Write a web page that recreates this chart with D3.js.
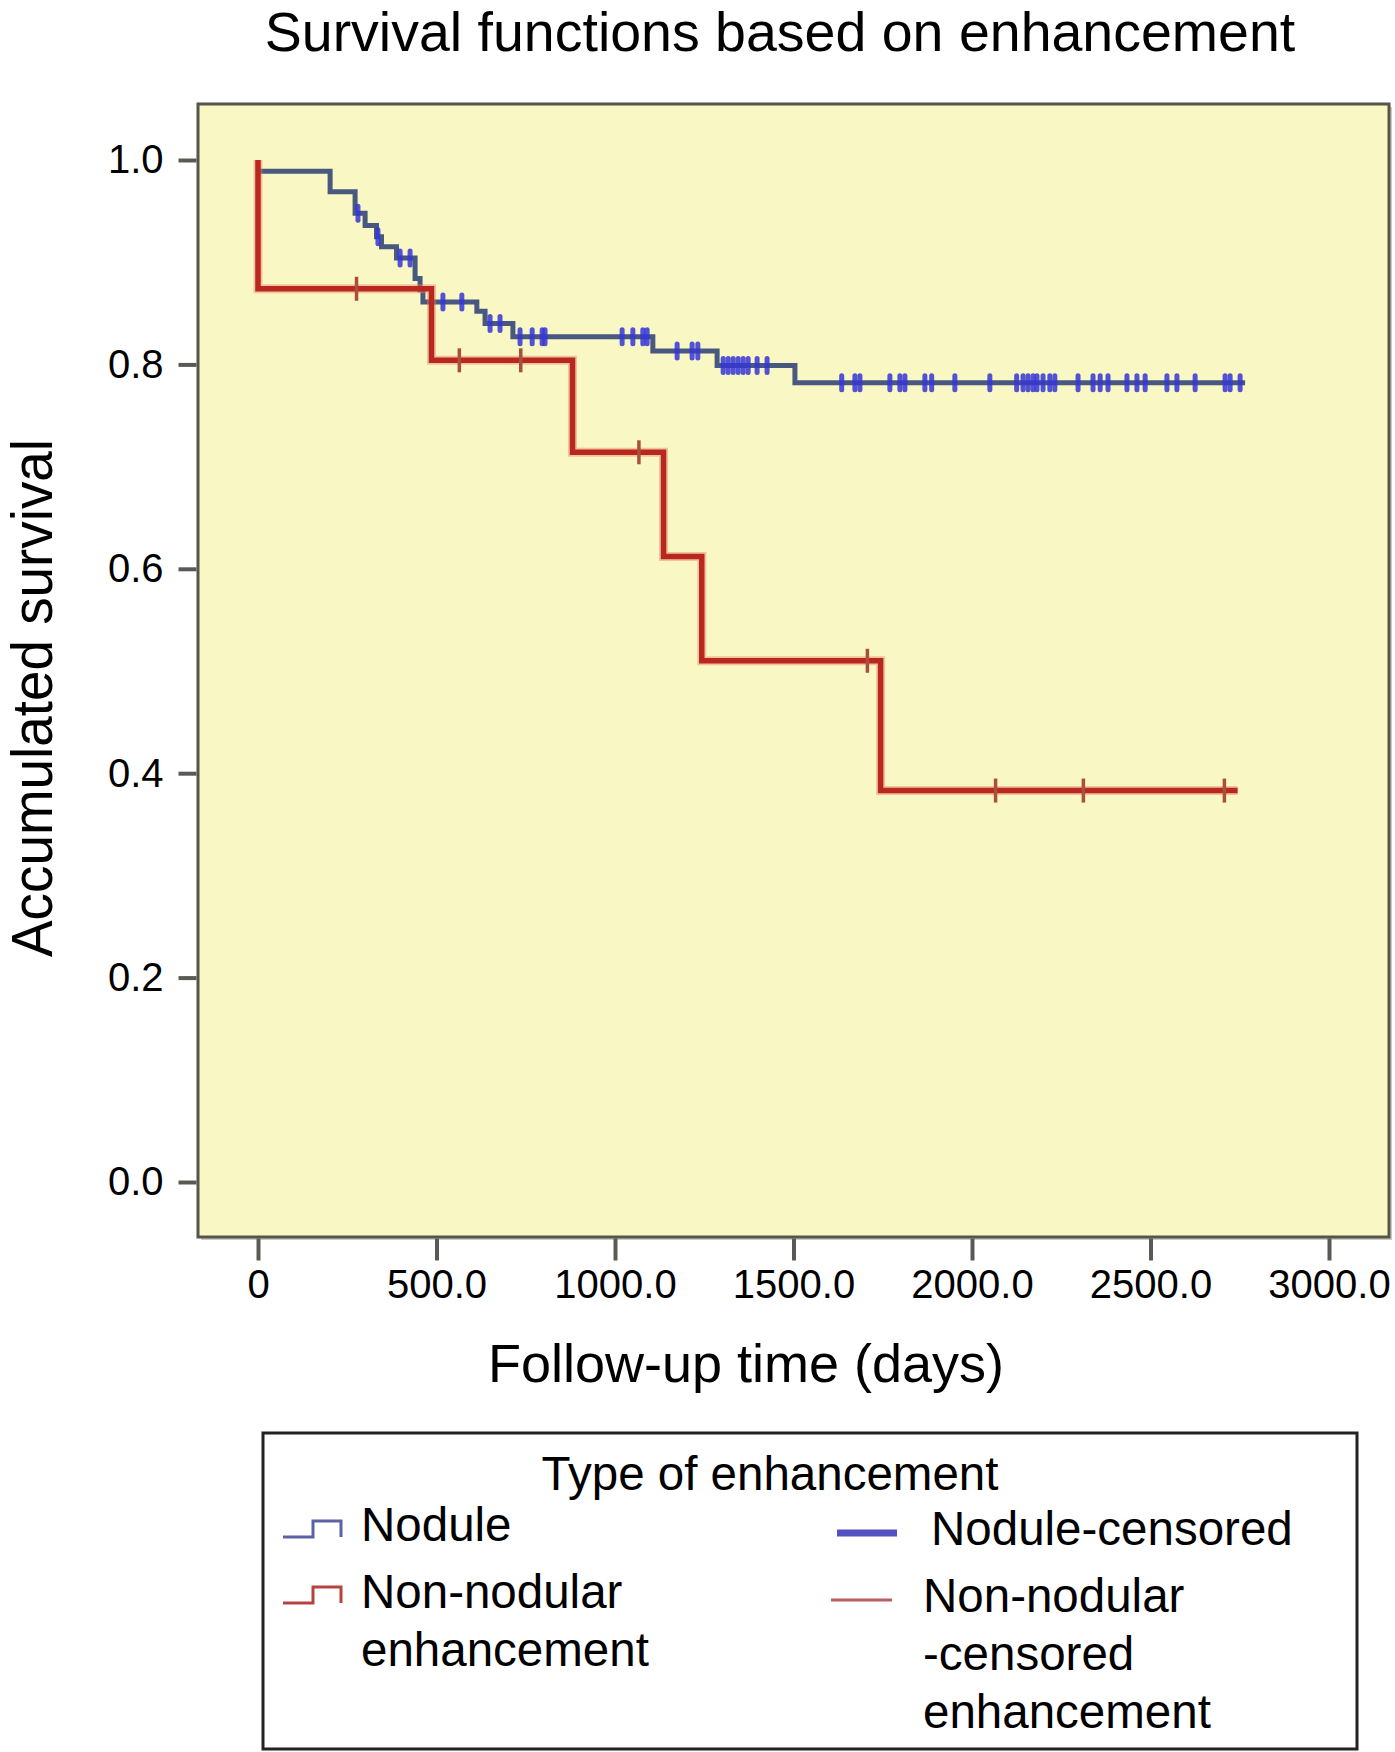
<!DOCTYPE html>
<html>
<head>
<meta charset="utf-8">
<script src="https://cdn.jsdelivr.net/npm/d3@7"></script>
<style>
  body { margin: 0; background: #fff; }
  svg text { font-family: "Liberation Sans", Arial, sans-serif; fill: #000; }
</style>
</head>
<body>
<div id="chart"></div>
<script>
// Kaplan-Meier steps (days, survival)
const noduleTimes = [0, 202, 272, 300, 332, 346, 388, 440, 454, 462, 613, 636, 714, 1106, 1286, 1504];
const noduleSurv  = [0.989, 0.969, 0.948, 0.936, 0.925, 0.915, 0.904, 0.884, 0.873, 0.861, 0.852, 0.840, 0.827, 0.813, 0.799, 0.782];
const noduleEnd = 2765;
const noduleCensored = [280, 336, 398, 426, 518, 571, 650, 678, 734, 768, 796, 804, 1020, 1050, 1078, 1090,
    1174, 1216, 1232, 1303, 1317, 1331, 1345, 1359, 1373, 1398, 1426,
    1635, 1672, 1686, 1770, 1798, 1812, 1868, 1887, 1952, 2050, 2125, 2143, 2157, 2171, 2182, 2199, 2218, 2232,
    2297, 2339, 2359, 2381, 2434, 2462, 2485, 2546, 2574, 2625, 2709, 2723, 2751];

const nonNodTimes = [0, 0, 486, 881, 1136, 1243, 1744];
const nonNodSurv  = [1, 0.874, 0.804, 0.714, 0.612, 0.510, 0.383];
const nonNodEnd = 2744;
const nonNodCensored = [276, 564, 736, 1067, 1707, 2066, 2312, 2707];

const xTicks = [0, 500, 1000, 1500, 2000, 2500, 3000];
const yTicks = [0, 0.2, 0.4, 0.6, 0.8, 1.0];

const W = 1395, H = 1752;
const frame = {left: 198, top: 104, right: 1389, bottom: 1237};

const svg = d3.select("#chart").append("svg")
    .attr("width", W)
    .attr("height", H);

const x = d3.scaleLinear().domain([0, 3000]).range([258, 1329]);
const y = d3.scaleLinear().domain([0, 1]).range([1182, 160]);

// title
svg.append("text")
    .attr("x", 780)
    .attr("y", 51)
    .attr("text-anchor", "middle")
    .style("font-size", "55.5px")
    .text("Survival functions based on enhancement");

// plot background
svg.append("rect")
    .attr("x", frame.left + 3)
    .attr("y", frame.top + 3)
    .attr("width", frame.right - frame.left)
    .attr("height", frame.bottom - frame.top)
    .attr("fill", "#9a9a8a")
    .attr("opacity", 0.5);
svg.append("rect")
    .attr("x", frame.left)
    .attr("y", frame.top)
    .attr("width", frame.right - frame.left)
    .attr("height", frame.bottom - frame.top)
    .attr("fill", "#f9f7c4")
    .attr("stroke", "#55554a")
    .attr("stroke-width", 3);

// axes
const yAxis = d3.axisLeft(y)
    .tickValues(yTicks)
    .tickFormat(d3.format(".1f"))
    .tickSize(18)
    .tickPadding(15);
const gy = svg.append("g")
    .attr("transform", `translate(${frame.left - 1.5},0)`)
    .call(yAxis);

const xAxis = d3.axisBottom(x)
    .tickValues(xTicks)
    .tickFormat(d => d === 0 ? "0" : d3.format(".1f")(d))
    .tickSize(22)
    .tickPadding(9);
const gx = svg.append("g")
    .attr("transform", `translate(0,${frame.bottom + 1.5})`)
    .call(xAxis);

[gx, gy].forEach(g => {
    g.select(".domain").remove();
    g.selectAll(".tick line").attr("stroke", "#5a5a55").attr("stroke-width", 4);
    g.selectAll(".tick text").style("font-size", "40px").attr("fill", "#000");
});

// axis titles
svg.append("text")
    .attr("x", 746)
    .attr("y", 1382)
    .attr("text-anchor", "middle")
    .style("font-size", "54px")
    .text("Follow-up time (days)");

svg.append("text")
    .attr("transform", "translate(52,698) rotate(-90)")
    .attr("text-anchor", "middle")
    .style("font-size", "58px")
    .attr("textLength", 518)
    .attr("lengthAdjust", "spacingAndGlyphs")
    .text("Accumulated survival");

// survival curves
function stepPoints(times, surv, end) {
    let pts = times.map((t, i) => [t, surv[i]]);
    pts.push([end, surv[surv.length - 1]]);
    return pts;
}
function survAt(times, surv, t) {
    let v = surv[0];
    times.forEach((tt, i) => { if (tt <= t) v = surv[i]; });
    return v;
}

const line = d3.line()
    .x(d => x(d[0]))
    .y(d => y(d[1]))
    .curve(d3.curveStepAfter);

const curves = svg.append("g").attr("class", "curves");

// nodule curve
curves.append("path")
    .datum(stepPoints(noduleTimes, noduleSurv, noduleEnd))
    .attr("d", line)
    .attr("fill", "none")
    .attr("stroke", "#48587f")
    .attr("stroke-width", 5);

curves.selectAll("line.nod-cens")
    .data(noduleCensored)
    .enter()
    .append("line")
    .attr("class", "nod-cens")
    .attr("x1", d => x(d))
    .attr("x2", d => x(d))
    .attr("y1", d => y(survAt(noduleTimes, noduleSurv, d)) - 7)
    .attr("y2", d => y(survAt(noduleTimes, noduleSurv, d)) + 7)
    .attr("stroke", "#3636d8")
    .attr("stroke-width", 5)
    .attr("stroke-linecap", "round")
    .attr("opacity", 0.85);

// non-nodular curve
curves.append("path")
    .datum(stepPoints(nonNodTimes, nonNodSurv, nonNodEnd))
    .attr("d", line)
    .attr("fill", "none")
    .attr("stroke", "#e88070")
    .attr("stroke-width", 9)
    .attr("opacity", 0.45);
curves.append("path")
    .datum(stepPoints(nonNodTimes, nonNodSurv, nonNodEnd))
    .attr("d", line)
    .attr("fill", "none")
    .attr("stroke", "#b8281e")
    .attr("stroke-width", 5.5);

curves.selectAll("line.non-cens")
    .data(nonNodCensored)
    .enter()
    .append("line")
    .attr("class", "non-cens")
    .attr("x1", d => x(d))
    .attr("x2", d => x(d))
    .attr("y1", d => y(survAt(nonNodTimes, nonNodSurv, d)) - 12)
    .attr("y2", d => y(survAt(nonNodTimes, nonNodSurv, d)) + 12)
    .attr("stroke", "#a8503c")
    .attr("stroke-width", 3.5);

// legend
const legend = svg.append("g").attr("class", "legend");
legend.append("rect")
    .attr("x", 263)
    .attr("y", 1433)
    .attr("width", 1094)
    .attr("height", 316)
    .attr("fill", "#fff")
    .attr("stroke", "#222")
    .attr("stroke-width", 3);

legend.append("text")
    .attr("x", 770)
    .attr("y", 1490)
    .attr("text-anchor", "middle")
    .style("font-size", "47.5px")
    .text("Type of enhancement");

const stepIcon = (x0, yb) => `M${x0},${yb} H${x0 + 30} V${yb - 16} H${x0 + 58} V${yb}`;

legend.append("path")
    .attr("d", stepIcon(283, 1537))
    .attr("fill", "none")
    .attr("stroke", "#5b63a6")
    .attr("stroke-width", 3);
legend.append("path")
    .attr("d", stepIcon(283, 1603))
    .attr("fill", "none")
    .attr("stroke", "#b5443c")
    .attr("stroke-width", 3);

legend.append("line")
    .attr("x1", 837).attr("x2", 897)
    .attr("y1", 1533).attr("y2", 1533)
    .attr("stroke", "#5252c0")
    .attr("stroke-width", 7);
legend.append("line")
    .attr("x1", 831).attr("x2", 892)
    .attr("y1", 1600).attr("y2", 1600)
    .attr("stroke", "#b86060")
    .attr("stroke-width", 3);

const leftLabels = [["Nodule"], ["Non-nodular", "enhancement"]];
const rightLabels = [["Nodule-censored"], ["Non-nodular", "-censored", "enhancement"]];
const leftBase = [1541, 1608];
const rightBase = [1545, 1612];

leftLabels.forEach((lines, i) => {
    lines.forEach((s, j) => {
        legend.append("text")
            .attr("x", 361)
            .attr("y", leftBase[i] + j * 58)
            .style("font-size", "47.5px")
            .text(s);
    });
});
rightLabels.forEach((lines, i) => {
    lines.forEach((s, j) => {
        legend.append("text")
            .attr("x", i === 0 ? 931 : 923)
            .attr("y", rightBase[i] + j * 58)
            .style("font-size", "47.5px")
            .text(s);
    });
});
</script>
</body>
</html>
